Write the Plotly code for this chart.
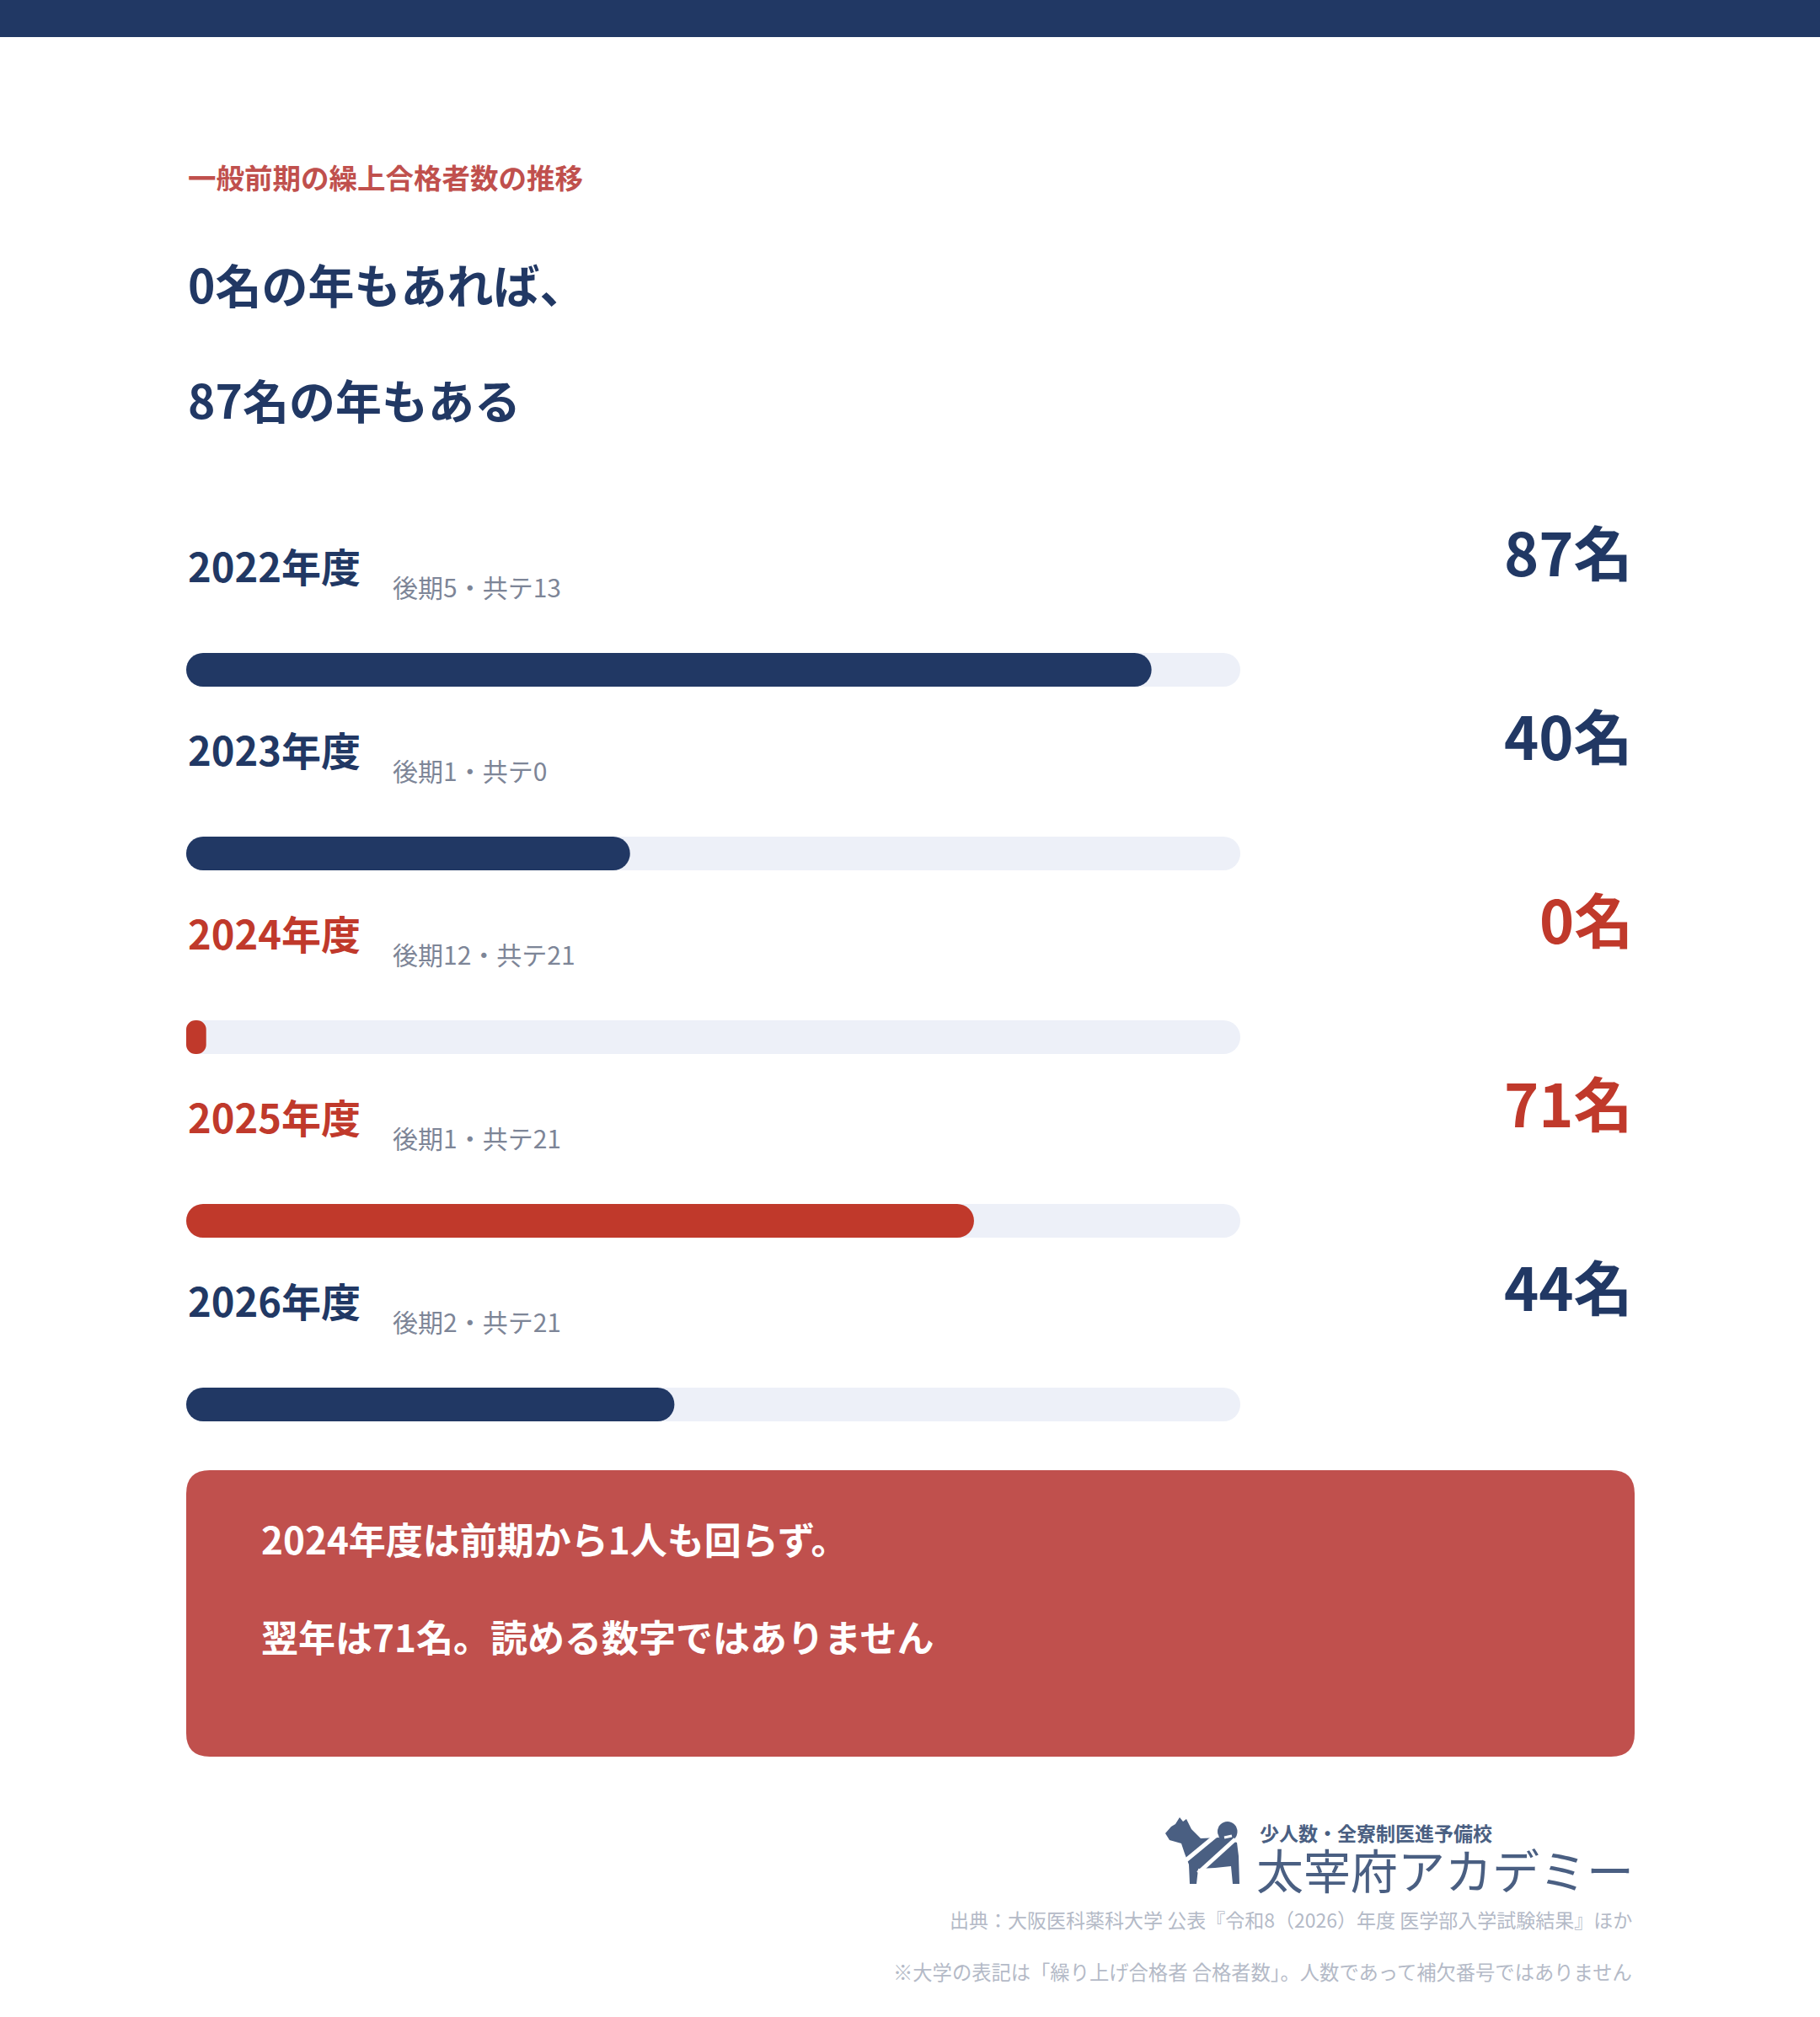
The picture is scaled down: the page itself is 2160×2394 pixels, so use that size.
import plotly.graph_objects as go

W, H = 2160, 2394

# data
years = ["2022年度", "2023年度", "2024年度", "2025年度", "2026年度"]
kouki = [5, 1, 12, 1, 2]
kyote = [13, 0, 21, 21, 21]
counts = [87, 40, 0, 71, 44]
highlight = [False, False, True, True, False]
axis_max = 95
min_stub = 1.8  # a zero bar still shows a small pill

NAVY = "#213864"
RED = "#C0392B"
BOX_RED = "#C0504D"
TRACK = "#EDF0F8"
GRAY = "#7D8597"
LIGHT = "#B4BAC7"
LOGO = "#4A5F82"
FONT = "Noto Sans CJK JP"

ROW0, ROW_STEP = 795, 218  # pixel centre of first bar, spacing between rows
BAR_PX = 40


def px(x):
    return x / W


def py(y):
    return 1 - y / H


def round_rect(x0, y0, x1, y1, r):
    rx, ry = r / W, r / H
    a, b, c, d = px(x0), py(y1), px(x1), py(y0)
    return (f"M {a+rx},{b} L {c-rx},{b} Q {c},{b} {c},{b+ry} "
            f"L {c},{d-ry} Q {c},{d} {c-rx},{d} L {a+rx},{d} "
            f"Q {a},{d} {a},{d-ry} L {a},{b+ry} Q {a},{b} {a+rx},{b} Z")


def poly(points):
    pts = [f"{px(x)},{py(y)}" for x, y in points]
    return "M " + " L ".join(pts) + " Z"


rows = list(range(len(years)))
shown = [max(c, min_stub) for c in counts]
bar_colors = [RED if h else NAVY for h in highlight]
bar_w = BAR_PX / ROW_STEP

fig = go.Figure()

# track, then value bars (explicit base so both ends get rounded)
for vals, colors in [([axis_max] * len(rows), TRACK), (shown, bar_colors)]:
    fig.add_trace(go.Bar(y=rows, x=vals, base=[0] * len(rows), orientation="h",
                         width=bar_w, marker=dict(color=colors, line=dict(width=0)),
                         hoverinfo="skip", showlegend=False))

ann = []

ann.append(dict(x=px(221), y=py(209), text="<b>一般前期の繰上合格者数の推移</b>",
                font=dict(size=33.5, color=BOX_RED)))
ann.append(dict(x=px(221), y=py(336), text="<b>0名の年もあれば、</b>",
                font=dict(size=55, color=NAVY)))
ann.append(dict(x=px(221), y=py(473), text="<b>87名の年もある</b>",
                font=dict(size=55, color=NAVY)))

for i, (yr, k, t, c, h) in enumerate(zip(years, kouki, kyote, counts, highlight)):
    col = RED if h else NAVY
    ann.append(dict(x=px(221), xref="paper", y=i, yref="y", yshift=125,
                    text=f"<b>{yr}</b>", font=dict(size=47, color=col)))
    ann.append(dict(x=px(464), xref="paper", y=i, yref="y", yshift=99,
                    text=f"後期{k}・共テ{t}", font=dict(size=30, color=GRAY)))
    ann.append(dict(x=px(1940), xref="paper", y=i, yref="y", yshift=142, xanchor="right",
                    text=f"<b>{c}名</b>", font=dict(size=70, color=col)))

ann.append(dict(x=px(308), y=py(1826), text="<b>2024年度は前期から1人も回らず。</b>",
                font=dict(size=44, color="white")))
ann.append(dict(x=px(308), y=py(1942), text="<b>翌年は71名。読める数字ではありません</b>",
                font=dict(size=44, color="white")))

# logo text
ann.append(dict(x=px(1493), y=py(2175), text="<b>少人数・全寮制医進予備校</b>",
                font=dict(size=23, color=LOGO)))
ann.append(dict(x=px(1489), y=py(2217), text="太宰府アカデミー",
                font=dict(size=56, color=LOGO)))

ann.append(dict(x=px(1939), y=py(2278), xanchor="right",
                text="出典：大阪医科薬科大学 公表『令和8（2026）年度 医学部入学試験結果』ほか",
                font=dict(size=23, color=LIGHT)))
ann.append(dict(x=px(1939), y=py(2340), xanchor="right",
                text="※大学の表記は「繰り上げ合格者 合格者数」。人数であって補欠番号ではありません",
                font=dict(size=23.3, color=LIGHT)))

for a in ann:
    a.setdefault("xref", "paper")
    a.setdefault("yref", "paper")
    a.setdefault("xanchor", "left")
    a.setdefault("yanchor", "middle")
    a.setdefault("showarrow", False)
    a["font"]["family"] = FONT

shapes = [
    # header band
    dict(type="rect", xref="paper", yref="paper", x0=0, x1=1, y0=py(44), y1=1,
         fillcolor=NAVY, line=dict(width=0), layer="below"),
    # callout box
    dict(type="path", xref="paper", yref="paper", path=round_rect(221, 1745, 1940, 2085, 28),
         fillcolor=BOX_RED, line=dict(width=0), layer="below"),
    # dog mark
    dict(type="circle", xref="paper", yref="paper", x0=px(1445), x1=px(1468.5),
         y0=py(2186), y1=py(2162), fillcolor=LOGO, line=dict(width=0)),
    dict(type="path", xref="paper", yref="paper", fillcolor=LOGO, line=dict(width=0),
         path=poly([(1383, 2176), (1390, 2168), (1395, 2165), (1400, 2157), (1404, 2162),
                    (1408, 2159), (1414, 2171), (1425, 2182), (1447, 2181), (1468, 2187),
                    (1470, 2203), (1471, 2236), (1463, 2236), (1461, 2215), (1442, 2217),
                    (1422, 2218), (1420, 2236), (1412, 2236), (1411, 2213), (1406, 2200),
                    (1402, 2188), (1388, 2184)])),
    dict(type="line", xref="paper", yref="paper", x0=px(1405), y0=py(2210), x1=px(1445), y1=py(2177),
         line=dict(color="white", width=5)),
    dict(type="line", xref="paper", yref="paper", x0=px(1422), y0=py(2223), x1=px(1466), y1=py(2183),
         line=dict(color="white", width=5)),
    dict(type="line", xref="paper", yref="paper", x0=px(1453), y0=py(2181), x1=px(1462), y1=py(2179),
         line=dict(color="white", width=3)),
]

fig.update_layout(
    width=W, height=H,
    margin=dict(l=0, r=0, t=0, b=0),
    paper_bgcolor="white", plot_bgcolor="rgba(0,0,0,0)",
    barmode="overlay", barcornerradius="50%",
    xaxis=dict(domain=[px(221), px(1472)], range=[0, axis_max], visible=False, fixedrange=True),
    yaxis=dict(domain=[0, 1], range=[(H - ROW0) / ROW_STEP, -ROW0 / ROW_STEP],
               visible=False, fixedrange=True),
    annotations=ann,
    shapes=shapes,
    showlegend=False,
)

fig.write_html("out.html", config={"displayModeBar": False},
               post_script="document.body.style.margin='0';document.body.style.overflow='hidden';")
